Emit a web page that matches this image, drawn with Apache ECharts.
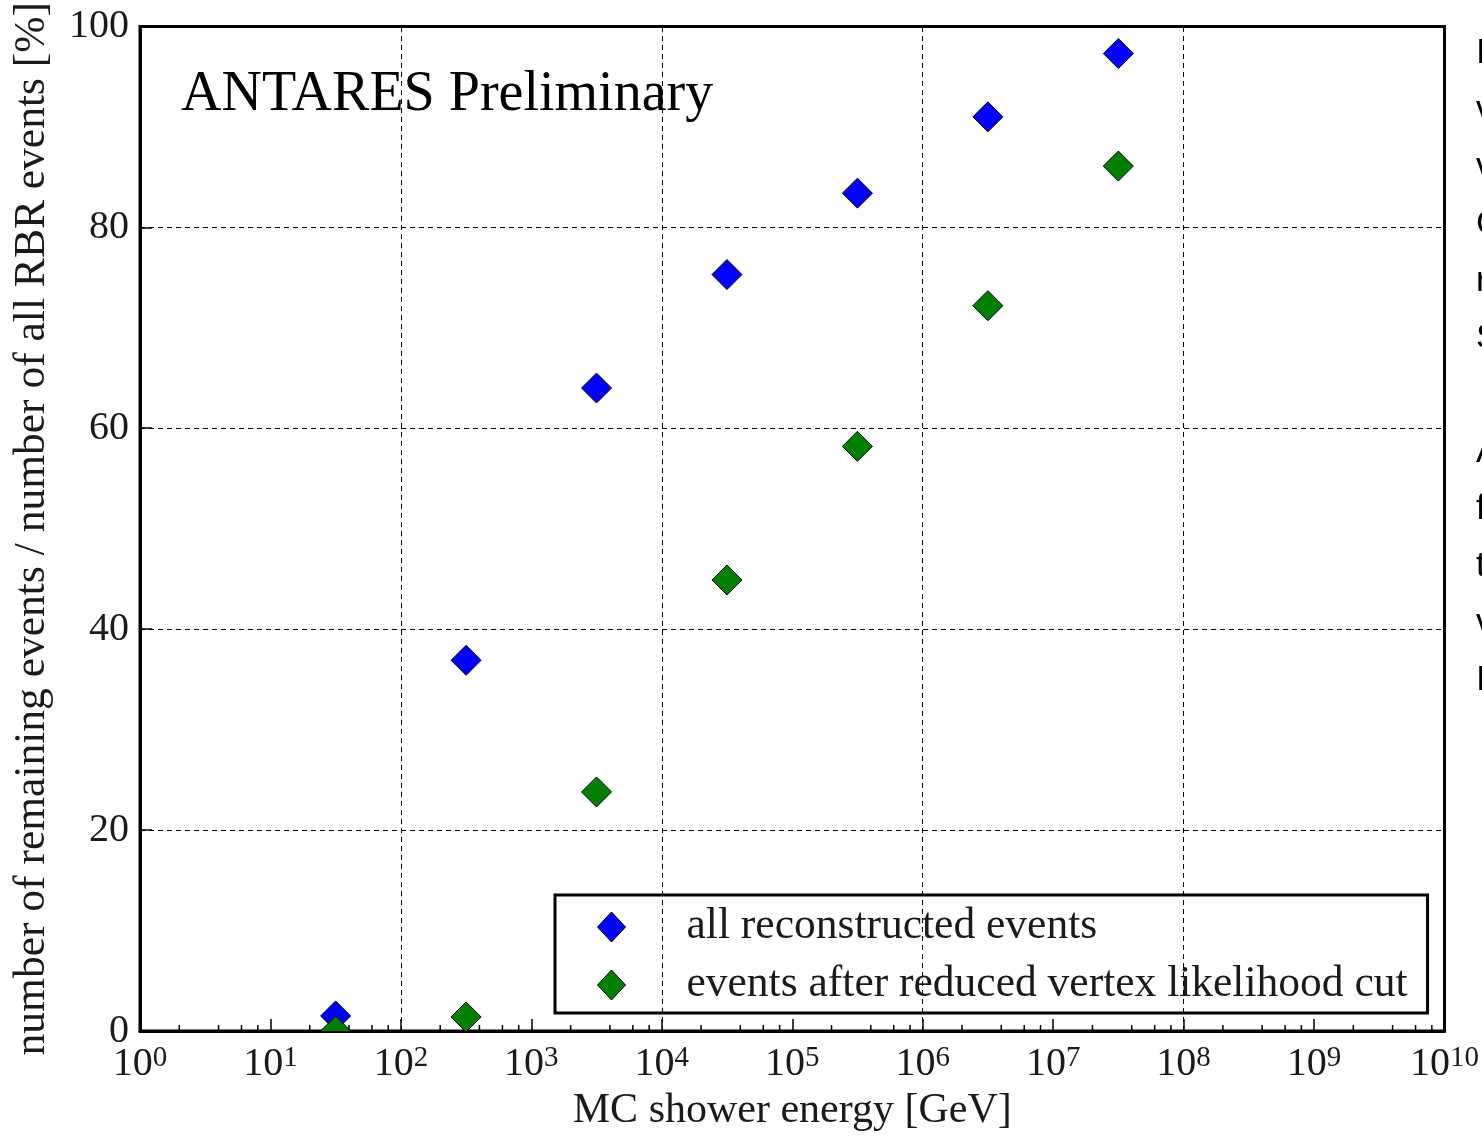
<!DOCTYPE html>
<html>
<head>
<meta charset="utf-8">
<script src="https://cdn.jsdelivr.net/npm/echarts@6/dist/echarts.min.js"></script>
<style>
  html, body { margin: 0; padding: 0; background: #fff; overflow: hidden; }
  #chart { width: 1482px; height: 1137px; }
</style>
</head>
<body>
<div id="chart"></div>
<script>
// MC shower energy bins (GeV), half-decade centres
const energies = [31.6, 316, 3160, 31600, 316000, 3160000, 31600000];
// Fraction of RBR events that remain [%]
const allReconstructed = [1.5, 36.9, 64.0, 75.3, 83.4, 91.0, 97.3];
const afterLikelihoodCut = [0.0, 1.4, 23.8, 44.9, 58.2, 72.2, 86.1];
const seriesNames = ['all reconstructed events', 'events after reduced vertex likelihood cut'];
const seriesColors = ['#0000ff', '#007f00'];
// Vertical grid positions (every second decade) and minor-tick multipliers
const gridEnergies = [100, 1e4, 1e6, 1e8];
const minorMultipliers = [2, 4, 6, 8];
const decades = [0, 1, 2, 3, 4, 5, 6, 7, 8, 9];
// Line starts of the neighbouring slide text
const sideLetters = ['I', 'v', 'v', 'C', 'r', 'S', '', 'A', 'f', 't', 'v', 'I'];

const serif = '"Liberation Serif", "DejaVu Serif", serif';
const textColor = '#1a1a1a';

const minorTicks = [];
decades.forEach(function (k) {
  minorMultipliers.forEach(function (m) { minorTicks.push([m * Math.pow(10, k), 0]); });
});

function diamondItem(params, api) {
  const p = api.coord([api.value(0), api.value(1)]);
  const r = 15;
  return {
    type: 'polygon',
    shape: { points: [[p[0], p[1] - r], [p[0] + r, p[1]], [p[0], p[1] + r], [p[0] - r, p[1]]] },
    style: { fill: api.visual('color'), stroke: '#000', lineWidth: 1 }
  };
}

function minorTickItem(params, api) {
  const p = api.coord([api.value(0), 0]);
  return {
    type: 'line',
    shape: { x1: p[0], y1: p[1], x2: p[0], y2: p[1] - 6 },
    style: { stroke: '#000', lineWidth: 1.5 }
  };
}

const chart = echarts.init(document.getElementById('chart'), null, { renderer: 'canvas' });

const option = {
  animation: false,
  backgroundColor: '#fff',
  title: {
    text: 'ANTARES Preliminary',
    left: 181, top: 67, padding: 0,
    textStyle: { fontFamily: serif, fontSize: 56, lineHeight: 56, fontWeight: 'normal', color: '#000' }
  },
  grid: {
    left: 140, top: 25, right: 37, bottom: 104,
    show: true, borderColor: '#000', borderWidth: 3, backgroundColor: 'transparent'
  },
  legend: {
    orient: 'vertical',
    left: 555, top: 895,
    padding: [10, 20, 6, 42],
    itemGap: 14,
    itemWidth: 28, itemHeight: 30,
    backgroundColor: '#fff', borderColor: '#000', borderWidth: 3, borderRadius: 0,
    selectedMode: false,
    textStyle: { fontFamily: serif, fontSize: 43.5, lineHeight: 42, color: textColor, padding: [0, 0, 0, 56] },
    data: seriesNames.map(function (n, i) {
      return { name: n, icon: 'diamond', itemStyle: { color: seriesColors[i], borderColor: '#000', borderWidth: 1 } };
    })
  },
  xAxis: [{
    type: 'log', logBase: 10, min: 1, max: 1e10, interval: 1,
    name: 'MC shower energy [GeV]', nameLocation: 'middle', nameGap: 59,
    nameTextStyle: { fontFamily: serif, fontSize: 42, lineHeight: 42, color: textColor },
    axisLine: { show: true, lineStyle: { color: '#000', width: 3 } },
    axisTick: { show: true, inside: true, length: 12, lineStyle: { color: '#000', width: 1.5 } },
    minorTick: { show: false },
    splitLine: { show: false },
    axisLabel: {
      margin: 13,
      formatter: function (v) {
        return '{b|10}{s|' + Math.round(Math.log10(v)) + '}';
      },
      rich: {
        b: { fontFamily: serif, fontSize: 40, lineHeight: 40, color: textColor },
        s: { fontFamily: serif, fontSize: 29, lineHeight: 22, verticalAlign: 'top', color: textColor }
      }
    }
  }],
  yAxis: {
    type: 'value', min: 0, max: 100, interval: 20,
    name: 'number of remaining events / number of all RBR events [%]',
    nameLocation: 'middle', nameGap: 86,
    nameTextStyle: { fontFamily: serif, fontSize: 43.5, lineHeight: 43, color: textColor },
    axisLine: { show: true, lineStyle: { color: '#000', width: 3 } },
    axisTick: { show: true, inside: true, length: 12, lineStyle: { color: '#000', width: 1.5 } },
    axisLabel: { margin: 11, fontFamily: serif, fontSize: 40, color: textColor },
    splitLine: { show: true, lineStyle: { color: '#000', width: 1, type: [5, 4] } }
  },
  graphic: [{
    type: 'text', x: 1476, y: 25, silent: true,
    style: { text: sideLetters.join('\n'), font: '35px "Liberation Sans", Arial, sans-serif', lineHeight: 57, fill: '#000' }
  }],
  series: [
    {
      type: 'line', data: [], silent: true,
      markLine: {
        silent: true, symbol: 'none', label: { show: false },
        lineStyle: { color: '#000', width: 1, type: [5, 4] },
        data: gridEnergies.map(function (e) { return { xAxis: e }; })
      }
    },
    {
      type: 'custom', coordinateSystem: 'cartesian2d', silent: true, clip: false,
      renderItem: minorTickItem,
      data: minorTicks
    },
    {
      name: seriesNames[0], type: 'custom', coordinateSystem: 'cartesian2d', clip: true,
      itemStyle: { color: seriesColors[0], borderColor: '#000', borderWidth: 1 },
      renderItem: diamondItem,
      data: energies.map(function (e, i) { return [e, allReconstructed[i]]; })
    },
    {
      name: seriesNames[1], type: 'custom', coordinateSystem: 'cartesian2d', clip: true,
      itemStyle: { color: seriesColors[1], borderColor: '#000', borderWidth: 1 },
      renderItem: diamondItem,
      data: energies.map(function (e, i) { return [e, afterLikelihoodCut[i]]; })
    }
  ]
};

chart.setOption(option);
</script>
</body>
</html>
